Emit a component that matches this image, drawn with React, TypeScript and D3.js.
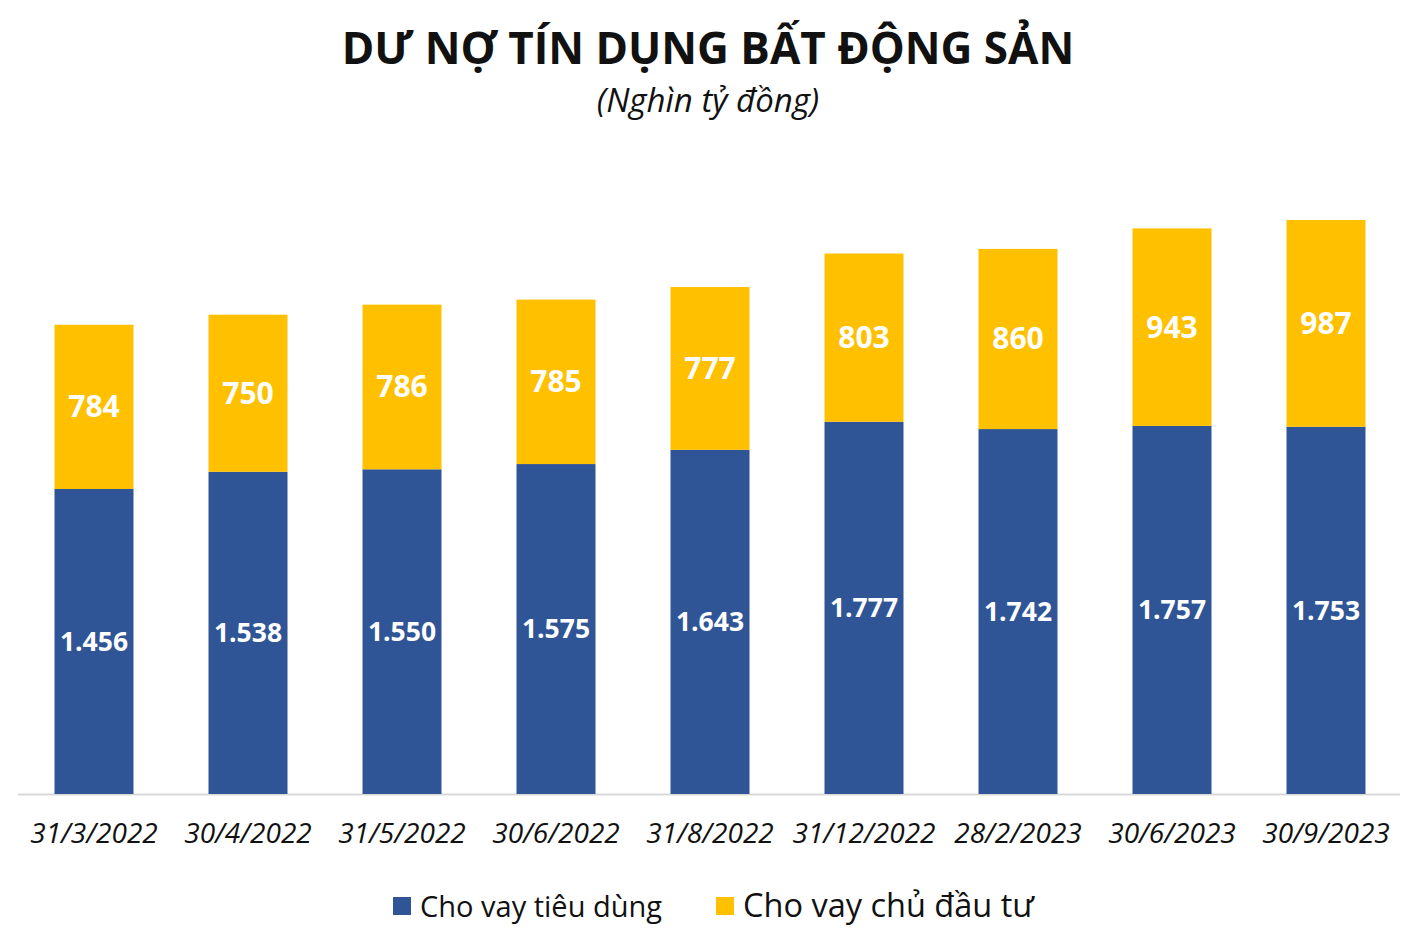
import React from "react";
import * as d3 from "d3";

const categories = ["31/3/2022", "30/4/2022", "31/5/2022", "30/6/2022", "31/8/2022", "31/12/2022", "28/2/2023", "30/6/2023", "30/9/2023"];
const consumerLoans = [1456, 1538, 1550, 1575, 1643, 1777, 1742, 1757, 1753];
const developerLoans = [784, 750, 786, 785, 777, 803, 860, 943, 987];
const seriesNames = ["Cho vay tiêu dùng", "Cho vay chủ đầu tư"];
const colors = ["#2F5597", "#FFC000"];

const W = 1417;
const H = 944;
const baseY = 794;
const FONT = "'Open Sans', 'Noto Sans', sans-serif";

export default function App() {
  const x = d3.scaleBand<string>().domain(categories).range([17, 1403]).paddingInner(0.487).paddingOuter(0.2435);
  const y = d3.scaleLinear().domain([0, 2740]).range([baseY, 220]);
  const fmt = (v: number) => d3.format(",")(v).replace(/,/g, ".");

  return (
    <svg width={W} height={H} style={{ position: "absolute", left: 0, top: 0, background: "#fff" }}>
      <text x={708} y={64} textAnchor="middle" fontFamily={FONT} fontWeight={700} fontSize={44} fill="#111">
        DƯ NỢ TÍN DỤNG BẤT ĐỘNG SẢN
      </text>
      <text x={708} y={112} textAnchor="middle" fontFamily={FONT} fontStyle="italic" fontSize={33} fill="#111">
        (Nghìn tỷ đồng)
      </text>
      <line x1={18} x2={1400} y1={baseY + 0.5} y2={baseY + 0.5} stroke="#D9D9D9" strokeWidth={2} />
      {categories.map((c, i) => {
        const bx = x(c)!;
        const bw = x.bandwidth();
        const v0 = consumerLoans[i];
        const v1 = developerLoans[i];
        const yBlueTop = y(v0);
        const yTop = y(v0 + v1);
        const cx = bx + bw / 2;
        return (
          <g key={c}>
            <rect x={bx} y={yBlueTop} width={bw} height={baseY - yBlueTop} fill={colors[0]} />
            <rect x={bx} y={yTop} width={bw} height={yBlueTop - yTop} fill={colors[1]} />
            <text x={cx} y={(yBlueTop + baseY) / 2} dy="0.35em" textAnchor="middle" fontFamily={FONT} fontWeight={700} fontSize={26.5} fill="#fff">
              {fmt(v0)}
            </text>
            <text x={cx} y={(yTop + yBlueTop) / 2} dy="0.35em" textAnchor="middle" fontFamily={FONT} fontWeight={700} fontSize={30} fill="#fff">
              {fmt(v1)}
            </text>
            <text x={cx} y={843} textAnchor="middle" fontFamily={FONT} fontStyle="italic" fontSize={28} fill="#111">
              {c}
            </text>
          </g>
        );
      })}
      <g>
        <rect x={393} y={897} width={18} height={18} fill={colors[0]} />
        <text x={420} y={917} fontFamily={FONT} fontSize={29} fill="#111">{seriesNames[0]}</text>
        <rect x={716} y={897} width={18} height={18} fill={colors[1]} />
        <text x={743} y={917} fontFamily={FONT} fontSize={32.5} fill="#111">{seriesNames[1]}</text>
      </g>
    </svg>
  );
}
